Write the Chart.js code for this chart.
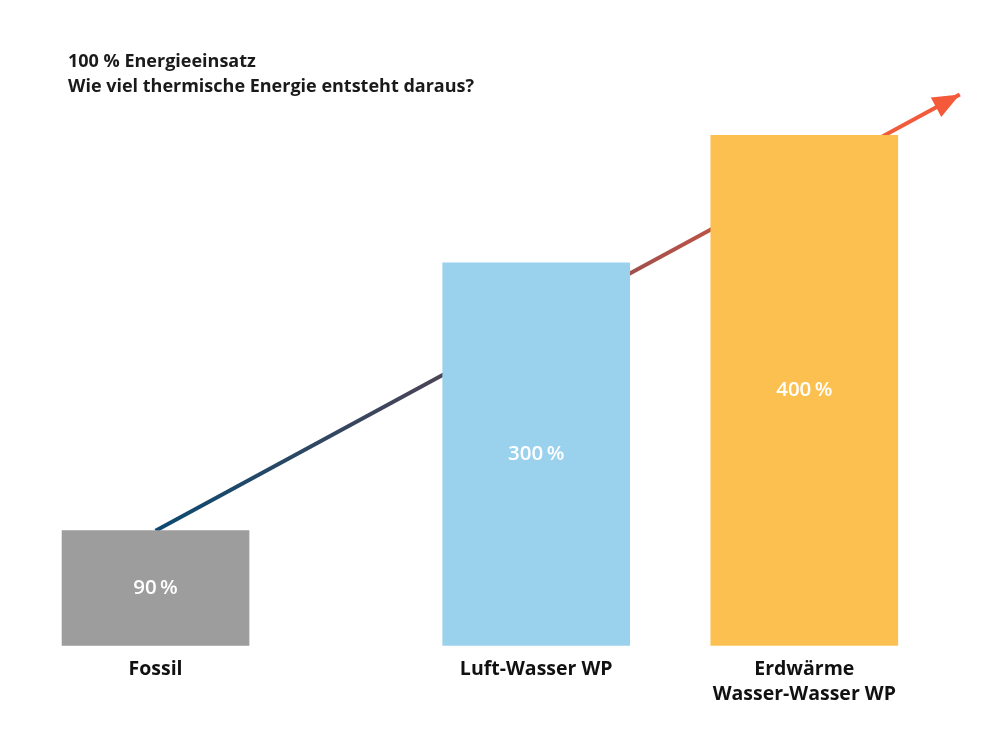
<!DOCTYPE html>
<html>
<head>
<meta charset="utf-8">
<script src="https://cdn.jsdelivr.net/npm/chart.js@4"></script>
<style>
  html, body { margin: 0; padding: 0; background: #ffffff; }
  #wrap { width: 1000px; height: 749px; }
</style>
</head>
<body>
<div id="wrap"><canvas id="myChart" width="1000" height="749"></canvas></div>
<script>
// data
var categories = [["Fossil"], ["Luft-Wasser WP"], ["Erdwärme", "Wasser-Wasser WP"]];
var values = [90, 300, 400];
var barColors = ["#9d9d9d", "#9ad2ee", "#fbc050"];
// where each bar sits along the x axis (bars are not evenly spaced)
var slots = [0, 2.84, 4.84];
// trend arrow: from top of first bar up past the last one
var arrowFrom = { x: 0, y: 90 };
var arrowTo = { x: 6.0, y: 432 };
var titleLines = ["100 % Energieeinsatz", "Wie viel thermische Energie entsteht daraus?"];

var FONT = "'Open Sans', 'DejaVu Sans', sans-serif";

// gradient for the arrow line, built from its own end points
function arrowGradient(context) {
    var chart = context.chart;
    if (!chart.chartArea) return "#0d4a70";
    var xs = chart.scales.x, ys = chart.scales.y;
    var g = chart.ctx.createLinearGradient(
        xs.getPixelForValue(arrowFrom.x), ys.getPixelForValue(arrowFrom.y),
        xs.getPixelForValue(arrowTo.x), ys.getPixelForValue(arrowTo.y));
    g.addColorStop(0, "#0c4a71");
    g.addColorStop(0.35, "#4a4457");
    g.addColorStop(0.6, "#a3504b");
    g.addColorStop(0.88, "#ef5a3c");
    g.addColorStop(1, "#f45a3a");
    return g;
}

// arrow head + value labels inside the bars
var extras = {
    id: "extras",
    afterDatasetsDraw: function(chart) {
        var ctx = chart.ctx;
        var line = chart.getDatasetMeta(1).data;
        var a = line[line.length - 2], b = line[line.length - 1];
        var ang = Math.atan2(b.y - a.y, b.x - a.x);
        ctx.save();
        ctx.translate(b.x, b.y);
        ctx.rotate(ang);
        ctx.beginPath();
        ctx.moveTo(0, 0);
        ctx.lineTo(-27, -11);
        ctx.lineTo(-27, 11);
        ctx.closePath();
        ctx.fillStyle = "#f45a3a";
        ctx.fill();
        ctx.restore();

        var bars = chart.getDatasetMeta(0).data;
        ctx.save();
        ctx.fillStyle = "#ffffff";
        ctx.font = "600 20.5px " + FONT;
        ctx.textAlign = "center";
        ctx.textBaseline = "middle";
        bars.forEach(function(bar, i) {
            var p = bar.getProps(["x", "y", "base"], true);
            ctx.fillText(values[i] + "\u2009%", p.x, (p.y + p.base) / 2);
        });
        ctx.restore();
    }
};

var ctx = document.getElementById("myChart").getContext("2d");
var myChart = new Chart(ctx, {
    type: "bar",
    data: {
        datasets: [{
            data: values.map(function(v, i) { return { x: slots[i], y: v }; }),
            backgroundColor: barColors,
            barThickness: 187,
            clip: false,
            order: 1
        }, {
            type: "line",
            data: [arrowFrom, arrowTo],
            borderColor: arrowGradient,
            borderWidth: 4,
            pointRadius: 0,
            clip: false,
            order: 2
        }]
    },
    options: {
        responsive: false,
        animation: false,
        layout: { padding: { top: 49.5, left: 68, right: 0, bottom: 30.5 } },
        plugins: {
            legend: { display: false },
            tooltip: { enabled: false },
            title: {
                display: true,
                text: titleLines,
                align: "start",
                color: "#1a1a1a",
                font: { family: FONT, size: 18, weight: "bold", lineHeight: "25px" },
                padding: { top: 0, bottom: 0 }
            }
        },
        scales: {
            x: {
                type: "linear",
                min: -0.653,
                max: 6.3,
                offset: false,
                grid: { display: false, drawTicks: false },
                border: { display: false },
                afterBuildTicks: function(axis) {
                    axis.ticks = slots.map(function(s) { return { value: s }; });
                },
                ticks: {
                    autoSkip: false,
                    maxRotation: 0,
                    minRotation: 0,
                    padding: 11.5,
                    color: "#111111",
                    font: { family: FONT, size: 19.5, weight: "bold", lineHeight: "25px" },
                    callback: function(v, i) { return categories[i]; }
                }
            },
            y: {
                display: false,
                min: 0,
                max: 428
            }
        }
    },
    plugins: [extras]
});
</script>
</body>
</html>
